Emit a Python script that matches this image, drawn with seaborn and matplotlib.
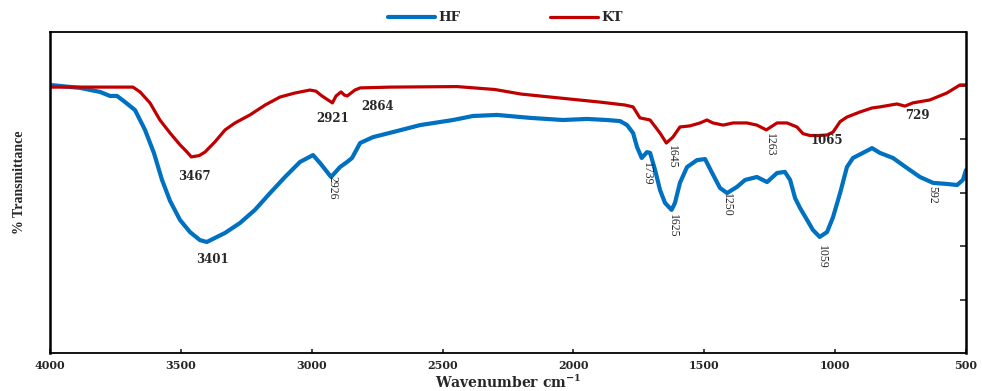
import numpy as np
import pandas as pd
import matplotlib
matplotlib.use("Agg")
import matplotlib.pyplot as plt
import seaborn as sns

# FTIR spectra: wavenumber (cm-1) and % transmittance
hf_wn = [4000, 3885, 3809, 3771, 3744, 3713, 3675, 3637, 3603, 3572, 3541, 3503,
         3465, 3427, 3401, 3370, 3331, 3274, 3217, 3159, 3102, 3045, 2995, 2968,
         2926, 2892, 2865, 2846, 2815, 2766, 2689, 2586, 2460, 2384, 2292, 2166,
         2040, 1948, 1872, 1822, 1795, 1772, 1757, 1739, 1719, 1707, 1688, 1669,
         1650, 1625, 1612, 1593, 1566, 1528, 1497, 1470, 1440, 1413, 1375, 1344,
         1299, 1260, 1222, 1192, 1172, 1153, 1134, 1107, 1085, 1059, 1031, 1008,
         981, 955, 932, 894, 859, 829, 779, 726, 676, 626, 573, 534, 512, 500]
hf_t = [100.2, 99.1, 97.6, 96.1, 96.1, 93.8, 90.8, 83.4, 74.8, 64.7, 56.8, 49.7,
        45.2, 42.2, 41.5, 43.0, 44.9, 48.6, 53.5, 59.8, 65.8, 71.4, 74.0, 71.0,
        65.8, 69.5, 71.4, 72.9, 78.5, 80.7, 82.6, 85.2, 87.1, 88.6, 89.0, 87.9,
        87.1, 87.5, 87.1, 86.7, 85.2, 82.2, 77.0, 72.9, 75.1, 74.8, 68.4, 60.9,
        56.1, 53.5, 56.1, 63.6, 69.5, 72.1, 72.5, 67.3, 61.7, 59.8, 62.1, 64.7,
        65.8, 63.9, 67.3, 67.7, 64.7, 57.9, 54.2, 49.7, 46.0, 43.4, 45.2, 50.8,
        59.8, 69.5, 72.9, 74.8, 76.6, 74.8, 72.9, 69.2, 65.8, 63.6, 63.2, 62.8,
        64.7, 68.4]

kt_wn = [4000, 3885, 3750, 3683, 3656, 3618, 3580, 3541, 3503, 3478, 3460, 3430,
         3408, 3370, 3331, 3293, 3236, 3178, 3121, 3064, 3007, 2984, 2961, 2921,
         2907, 2888, 2875, 2864, 2835, 2815, 2700, 2445, 2300, 2200, 2040, 1899,
         1803, 1772, 1746, 1707, 1669, 1645, 1620, 1593, 1555, 1516, 1490, 1467,
         1428, 1390, 1337, 1299, 1263, 1222, 1184, 1146, 1123, 1096, 1065, 1031,
         1008, 981, 955, 905, 859, 829, 764, 733, 703, 638, 573, 523, 500]
kt_t = [99.4, 99.4, 99.4, 99.4, 97.6, 93.5, 87.1, 82.2, 77.8, 75.3, 73.3, 73.8,
        75.1, 78.9, 83.4, 86.0, 89.0, 92.7, 95.7, 97.2, 98.3, 97.9, 96.1, 93.5,
        96.1, 97.6, 96.4, 96.1, 98.3, 99.1, 99.4, 99.6, 98.5, 96.8, 95.2, 93.8,
        92.7, 92.0, 87.9, 87.1, 82.2, 78.5, 80.7, 84.5, 84.9, 86.0, 87.1, 86.0,
        85.2, 86.0, 86.0, 85.2, 83.4, 86.0, 86.0, 84.5, 82.0, 81.3, 81.3, 81.5,
        82.6, 86.5, 88.2, 90.1, 91.6, 92.0, 93.1, 92.3, 93.5, 94.6, 97.2, 100.2,
        100.2]

series_names = ["HF", "KT"]
series_colors = ["#0070C0", "#C00000"]

# Peak annotations: (text, wavenumber position, transmittance position)
flat_labels = [("3467", 3450, 65.8), ("3401", 3381, 35.1), ("2921", 2922, 87.5),
               ("2864", 2750, 92.0), ("1065", 1031, 79.6), ("729", 687, 88.6)]
vert_labels = [("2926", 2919, 61.7), ("1739", 1719, 66.9), ("1645", 1623, 73.3),
               ("1263", 1249, 77.8), ("592", 630, 59.1), ("1625", 1620, 47.5),
               ("1250", 1413, 55.3), ("1059", 1050, 35.9)]

x_ticks = [4000, 3500, 3000, 2500, 2000, 1500, 1000, 500]
y_ticks = [20, 40, 60, 80, 100]

df = pd.concat([
    pd.DataFrame({"wavenumber": hf_wn, "T": hf_t, "sample": "HF"}),
    pd.DataFrame({"wavenumber": kt_wn, "T": kt_t, "sample": "KT"}),
])

sns.set_style("white")
plt.rcParams["font.family"] = ["Liberation Serif", "DejaVu Serif"]
wide_bold = {"family": "DejaVu Serif", "weight": "bold"}

fig = plt.figure(figsize=(9.82, 3.91), dpi=100)
ax = fig.add_axes([50 / 982, 38 / 391, 916 / 982, 321 / 391])

sns.lineplot(data=df, x="wavenumber", y="T", hue="sample", hue_order=series_names,
             palette=series_colors, sort=False, estimator=None, ax=ax,
             legend=False)
line_widths = [3.0, 2.3]
for line, lw in zip(ax.get_lines(), line_widths):
    line.set_linewidth(lw)
    line.set_solid_joinstyle("round")
    line.set_solid_capstyle("round")

ax.set_xlim(4000, 500)
ax.set_ylim(0, 120)
ax.set_xticks(x_ticks)
ax.set_xticklabels([str(t) for t in x_ticks], fontsize=8, **wide_bold)
ax.set_yticks(y_ticks)
ax.tick_params(axis="x", direction="in", length=3, width=1.2, pad=5, bottom=True)
ax.tick_params(axis="y", direction="in", length=4, width=1.2, left=False,
               right=True, labelleft=False, labelright=False)
for s in ax.spines.values():
    s.set_color("black")
    s.set_linewidth(1.3)
ax.spines["left"].set_linewidth(1.8)
ax.spines["right"].set_linewidth(1.8)

ax.set_xlabel("Wavenumber cm$^{\\mathregular{-1}}$", fontsize=10, **wide_bold)
ax.xaxis.set_label_coords(0.5, -0.066)
ax.set_ylabel("% Transmittance", fontsize=10, fontweight="bold")
ax.yaxis.set_label_coords(-0.026, 0.533)

for txt, x, y in flat_labels:
    ax.text(x, y, txt, ha="center", va="center", fontsize=8.5, **wide_bold)
for txt, x, y in vert_labels:
    ax.text(x, y, txt, ha="center", va="center", fontsize=8.5, rotation=270)

handles = [plt.Line2D([], [], color=c, lw=lw) for c, lw in zip(series_colors, line_widths)]
ax.legend(handles, series_names, loc="center", bbox_to_anchor=(0.497, 1.044),
          ncol=2, frameon=False, handlelength=3.6, handletextpad=0.25,
          columnspacing=6.8, prop={"family": "DejaVu Serif", "weight": "bold", "size": 9.5})

fig.savefig("out.png", dpi=100)
